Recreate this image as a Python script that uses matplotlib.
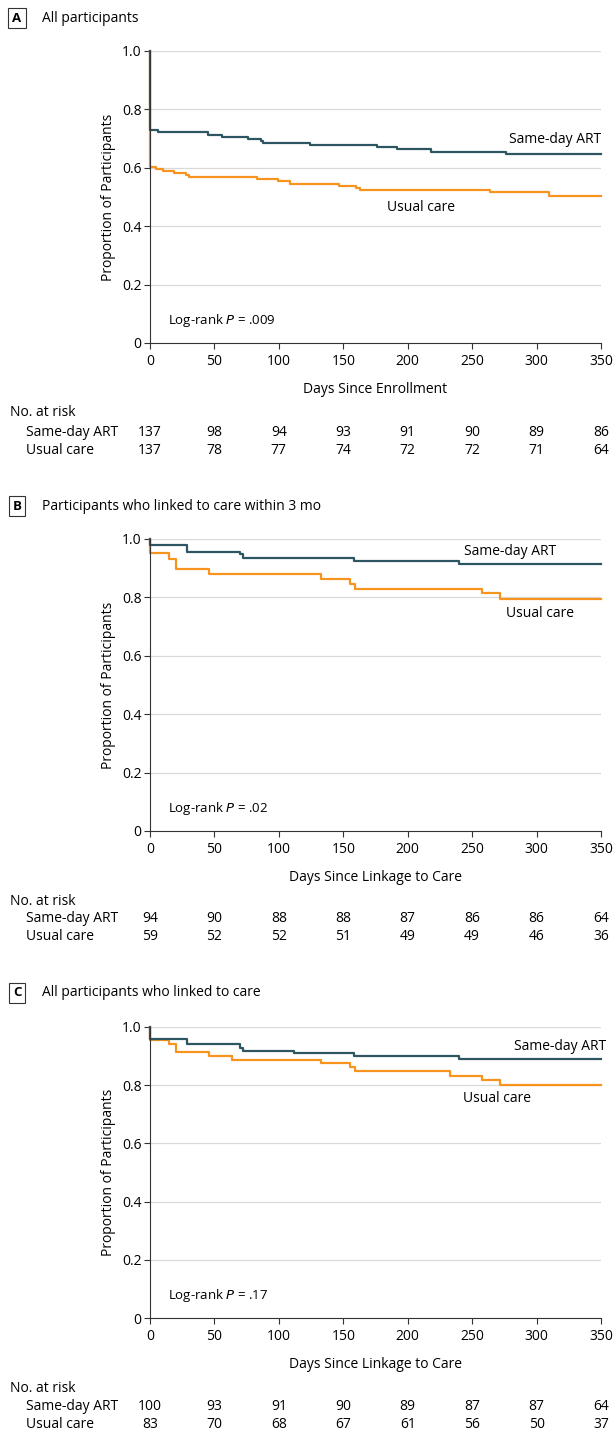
import matplotlib
matplotlib.use("Agg")
import matplotlib.pyplot as plt
from matplotlib.transforms import blended_transform_factory

plt.rcParams['font.family'] = ['Open Sans', 'DejaVu Sans']

# Panel A
a_sd_t = [0, 6, 45, 56, 76, 86, 88, 124, 176, 192, 218, 276, 350]
a_sd_s = [0.729, 0.722, 0.713, 0.705, 0.699, 0.692, 0.684, 0.677, 0.670, 0.663, 0.655, 0.648, 0.648]
a_uc_t = [0, 5, 10, 19, 28, 30, 83, 99, 109, 147, 160, 163, 264, 310, 350]
a_uc_s = [0.604, 0.597, 0.590, 0.583, 0.576, 0.570, 0.562, 0.554, 0.546, 0.538, 0.531, 0.524, 0.516, 0.503, 0.503]
# Panel B
b_sd_t = [0, 29, 70, 72, 158, 240, 350]
b_sd_s = [0.979, 0.957, 0.948, 0.936, 0.926, 0.916, 0.916]
b_uc_t = [0, 15, 20, 46, 133, 155, 159, 258, 272, 350]
b_uc_s = [0.951, 0.932, 0.897, 0.881, 0.863, 0.847, 0.829, 0.814, 0.796, 0.796]
# Panel C
c_sd_t = [0, 29, 70, 72, 112, 158, 240, 350]
c_sd_s = [0.960, 0.940, 0.929, 0.919, 0.910, 0.899, 0.889, 0.889]
c_uc_t = [0, 15, 20, 46, 64, 133, 155, 159, 233, 258, 272, 350]
c_uc_s = [0.954, 0.940, 0.914, 0.901, 0.887, 0.875, 0.862, 0.848, 0.832, 0.819, 0.802, 0.802]

risk_times = [0, 50, 100, 150, 200, 250, 300, 350]
a_risk_sd = [137, 98, 94, 93, 91, 90, 89, 86]
a_risk_uc = [137, 78, 77, 74, 72, 72, 71, 64]
b_risk_sd = [94, 90, 88, 88, 87, 86, 86, 64]
b_risk_uc = [59, 52, 52, 51, 49, 49, 46, 36]
c_risk_sd = [100, 93, 91, 90, 89, 87, 87, 64]
c_risk_uc = [83, 70, 68, 67, 61, 56, 50, 37]

TEAL = '#2e5662'
ORANGE = '#f7941d'
W, H = 613, 1454
FS = 10
fig = plt.figure(figsize=(W/100, H/100), dpi=100)

panels = [
    dict(letter='A', title='All participants', top=51, bot=343, title_y=18,
         sd=(a_sd_t, a_sd_s), uc=(a_uc_t, a_uc_s), xlabel='Days Since Enrollment',
         pval='.009', risk=(a_risk_sd, a_risk_uc), risk_y=(413, 433, 450),
         sd_lab=(350, 0.67, 'right'), uc_lab=(210, 0.49, 'center')),
    dict(letter='B', title='Participants who linked to care within 3 mo', top=539, bot=831, title_y=506,
         sd=(b_sd_t, b_sd_s), uc=(b_uc_t, b_uc_s), xlabel='Days Since Linkage to Care',
         pval='.02', risk=(b_risk_sd, b_risk_uc), risk_y=(901, 919, 936),
         sd_lab=(244, 0.93, 'left'), uc_lab=(276, 0.772, 'left')),
    dict(letter='C', title='All participants who linked to care', top=1027, bot=1318, title_y=993,
         sd=(c_sd_t, c_sd_s), uc=(c_uc_t, c_uc_s), xlabel='Days Since Linkage to Care',
         pval='.17', risk=(c_risk_sd, c_risk_uc), risk_y=(1389, 1407, 1424),
         sd_lab=(354, 0.908, 'right'), uc_lab=(243, 0.78, 'left')),
]

x0, x1 = 150, 601
for p in panels:
    ax = fig.add_axes([x0/W, 1-p['bot']/H, (x1-x0)/W, (p['bot']-p['top'])/H])
    ax.set_xlim(0, 350)
    ax.set_ylim(0, 1.0)
    ax.set_yticks([0, 0.2, 0.4, 0.6, 0.8, 1.0])
    ax.set_yticklabels(['0', '0.2', '0.4', '0.6', '0.8', '1.0'])
    ax.set_xticks(risk_times)
    ax.grid(axis='y', color='#d9d9d9', lw=0.9)
    ax.set_axisbelow(True)
    for s in ['top', 'right']:
        ax.spines[s].set_visible(False)
    ax.spines['left'].set_color('#333333')
    ax.spines['bottom'].set_color('#333333')
    ax.tick_params(labelsize=FS, length=4, color='#333333')
    ax.tick_params(axis='x', pad=4)
    ax.tick_params(axis='y', pad=2)
    ax.set_xlabel(p['xlabel'], fontsize=FS, labelpad=9)
    ax.set_ylabel('Proportion of Participants', fontsize=FS, labelpad=4)
    ut, us = p['uc']
    st, ss = p['sd']
    ax.step([0] + ut, [1.0] + us, where='post', color=ORANGE, lw=1.6, clip_on=False)
    ax.step([0] + st, [1.0] + ss, where='post', color=TEAL, lw=1.6, clip_on=False)
    x, y, ha = p['sd_lab']
    ax.text(x, y, 'Same-day ART', fontsize=FS, ha=ha, va='bottom', clip_on=False)
    x, y, ha = p['uc_lab']
    ax.text(x, y, 'Usual care', fontsize=FS, ha=ha, va='top')
    ax.text(14, 0.065, 'Log-rank $\\mathit{P}$ = ' + p['pval'], fontsize=FS-0.5)
    fig.text(17/W, 1-p['title_y']/H, p['letter'], fontsize=FS-0.5, fontweight='bold', ha='center', va='center',
             bbox=dict(boxstyle='square,pad=0.3', fc='white', ec='#333333', lw=0.8))
    fig.text(42/W, 1-p['title_y']/H, p['title'], fontsize=FS, va='center')
    tr = blended_transform_factory(ax.transData, fig.transFigure)
    ry0, ry1, ry2 = p['risk_y']
    fig.text(10/W, 1-ry0/H, 'No. at risk', fontsize=FS, va='center')
    fig.text(26/W, 1-ry1/H, 'Same-day ART', fontsize=FS, va='center')
    fig.text(26/W, 1-ry2/H, 'Usual care', fontsize=FS, va='center')
    for t, v1, v2 in zip(risk_times, p['risk'][0], p['risk'][1]):
        ax.text(t, 1-ry1/H, str(v1), transform=tr, fontsize=FS, ha='center', va='center', clip_on=False)
        ax.text(t, 1-ry2/H, str(v2), transform=tr, fontsize=FS, ha='center', va='center', clip_on=False)

fig.savefig('out.png', dpi=100, facecolor='white')
